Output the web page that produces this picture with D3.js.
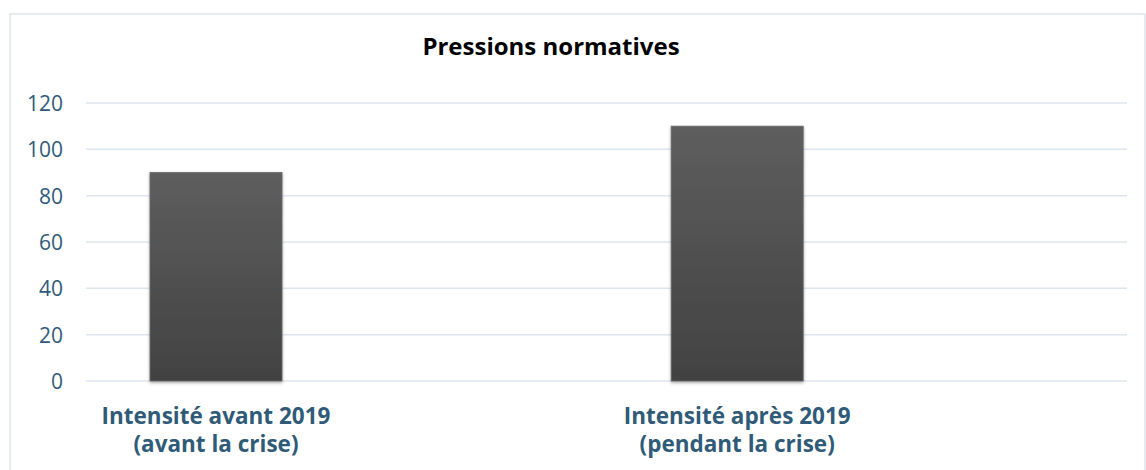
<!DOCTYPE html>
<html><head><meta charset="utf-8">
<script src="https://cdn.jsdelivr.net/npm/d3@7"></script>
<style>body{margin:0;background:#fff}svg{display:block}</style>
</head><body>
<script>
const title = "Pressions normatives";
const categories = ["Intensité avant 2019\n(avant la crise)", "Intensité après 2019\n(pendant la crise)"];
const values = [90, 110];
const yTicks = [0, 20, 40, 60, 80, 100, 120];

const W = 1146, H = 470;
const svg = d3.select("body").append("svg").attr("width", W).attr("height", H);

const defs = svg.append("defs");
const grad = defs.append("linearGradient").attr("id", "barGrad").attr("x1", 0).attr("y1", 0).attr("x2", 0).attr("y2", 1);
grad.append("stop").attr("offset", "0%").attr("stop-color", "#5e5e5e");
grad.append("stop").attr("offset", "100%").attr("stop-color", "#424242");
const f = defs.append("filter").attr("id", "shadow").attr("x", "-10%").attr("y", "-10%").attr("width", "120%").attr("height", "120%");
f.append("feDropShadow").attr("dx", 0).attr("dy", 1.5).attr("stdDeviation", 1.5).attr("flood-color", "#000").attr("flood-opacity", 0.35);

// frame
svg.append("rect").attr("x", 10).attr("y", 14).attr("width", 1135).attr("height", 470)
  .attr("fill", "#fff").attr("stroke", "#dbe5ef").attr("stroke-width", 1.5);

const x = d3.scaleBand().domain(categories).range([86, 1127])
  .paddingInner(0.7466).paddingOuter(0.372).align(0.165);
const y = d3.scaleLinear().domain([0, 120]).range([381, 103]);

// grid
svg.append("g").selectAll("line").data(yTicks).join("line")
  .attr("x1", 86).attr("x2", 1127)
  .attr("y1", d => y(d)).attr("y2", d => y(d))
  .attr("stroke", "#dce6f0").attr("stroke-width", 1.5);

// y axis labels
const yAxis = d3.axisLeft(y).tickValues(yTicks).tickSize(0).tickPadding(0);
const gy = svg.append("g").attr("transform", "translate(63,0)").call(yAxis);
gy.select(".domain").remove();
gy.selectAll("text").attr("font-family", "Open Sans").attr("font-size", 21)
  .attr("fill", "#2f5b78").attr("dy", "0.35em");

// bars
svg.append("g").selectAll("rect").data(values).join("rect")
  .attr("x", (d, i) => x(categories[i]))
  .attr("width", x.bandwidth())
  .attr("y", d => y(d))
  .attr("height", d => y(0) - y(d))
  .attr("fill", "url(#barGrad)")
  .attr("stroke", "#6a6a6a").attr("stroke-width", 0.8)
  .attr("filter", "url(#shadow)");

// x labels
const gx = svg.append("g");
categories.forEach(c => {
  const lines = c.split("\n");
  const t = gx.append("text").attr("text-anchor", "middle")
    .attr("font-family", "Open Sans").attr("font-weight", "bold").attr("font-size", 22.5)
    .attr("fill", "#2f5b78");
  lines.forEach((l, j) => {
    t.append("tspan").attr("x", x(c) + x.bandwidth() / 2).attr("y", 424 + j * 28).text(l);
  });
});

// title
svg.append("text").attr("x", 551).attr("y", 55).attr("text-anchor", "middle")
  .attr("font-family", "Open Sans").attr("font-weight", "bold").attr("font-size", 24)
  .attr("fill", "#000").text(title);
</script>
</body></html>
